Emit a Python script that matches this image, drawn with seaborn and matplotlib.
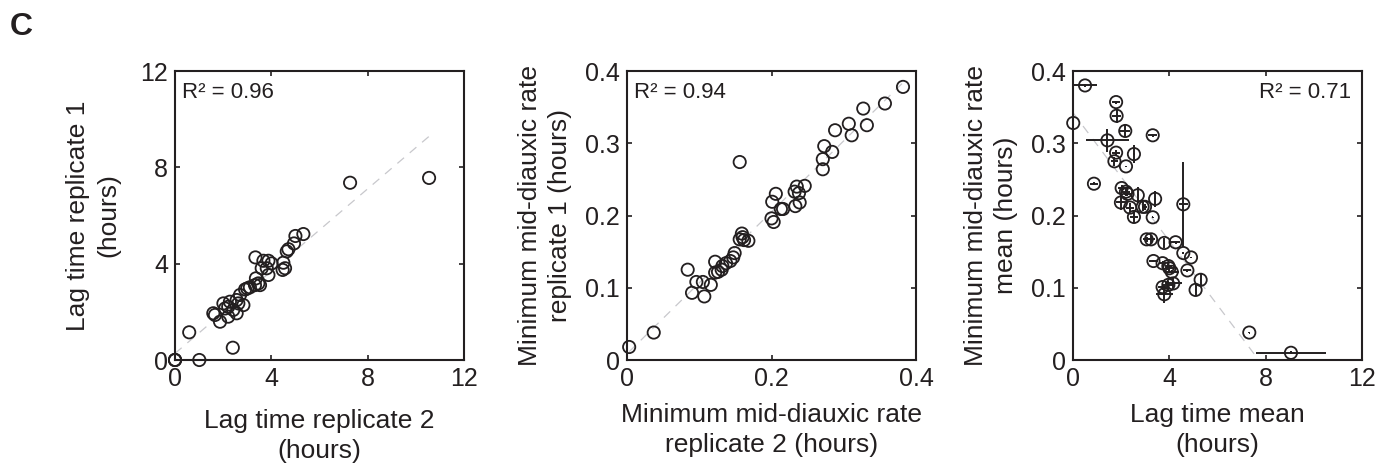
import numpy as np
import pandas as pd
import matplotlib
matplotlib.use("Agg")
import matplotlib.pyplot as plt
import seaborn as sns

# ---------------- data ----------------
lag_rep2 = [0, 0, 0, 1.01, 0.59, 2.40, 7.27, 10.55, 5.33, 5.00,
            4.94, 4.71, 4.64, 4.50, 4.47, 4.57, 3.34, 3.67, 3.88, 4.01,
            3.60, 3.81, 3.88, 3.36, 3.46, 3.53, 3.32, 3.11, 2.91, 3.00,
            2.70, 2.84, 2.63, 2.56, 2.28, 2.01, 2.21, 2.08, 1.59, 1.66,
            1.87, 2.21, 2.42, 2.56]
lag_rep1 = [0, 0, 0, 0, 1.15, 0.51, 7.36, 7.56, 5.23, 5.15,
            4.84, 4.60, 4.51, 4.04, 3.74, 3.81, 4.26, 4.12, 4.12, 4.01,
            3.81, 3.81, 3.53, 3.39, 3.18, 3.11, 3.11, 3.02, 2.93, 2.97,
            2.70, 2.28, 2.35, 1.94, 2.42, 2.35, 2.21, 2.14, 1.94, 1.87,
            1.59, 1.80, 2.08, 2.49]

rate_rep2 = [0.003, 0.037, 0.084, 0.090, 0.096, 0.105, 0.107, 0.116, 0.122, 0.122,
             0.126, 0.131, 0.132, 0.137, 0.143, 0.147, 0.149, 0.156, 0.159, 0.156,
             0.162, 0.168, 0.160, 0.200, 0.203, 0.201, 0.206, 0.213, 0.216, 0.232,
             0.235, 0.238, 0.246, 0.233, 0.239, 0.271, 0.273, 0.271, 0.284, 0.288,
             0.307, 0.311, 0.327, 0.332, 0.357, 0.382]
rate_rep1 = [0.018, 0.038, 0.125, 0.093, 0.108, 0.108, 0.088, 0.104, 0.136, 0.121,
             0.122, 0.125, 0.130, 0.134, 0.137, 0.142, 0.148, 0.274, 0.175, 0.167,
             0.166, 0.165, 0.170, 0.196, 0.191, 0.219, 0.230, 0.209, 0.209, 0.233,
             0.240, 0.231, 0.241, 0.213, 0.218, 0.278, 0.296, 0.264, 0.288, 0.318,
             0.327, 0.311, 0.348, 0.325, 0.355, 0.378]

lag_mean = [0.50, 0.01, 0.87, 1.79, 1.81, 2.17, 1.43, 3.31, 1.79, 1.72,
            2.53, 2.20, 2.02, 2.20, 2.26, 2.69, 3.41, 1.99, 2.37, 2.53,
            2.89, 2.99, 3.31, 4.58, 3.06, 3.24, 3.79, 4.26, 4.58, 4.90,
            3.34, 3.72, 3.96, 4.00, 4.10, 4.75, 5.30, 5.09, 3.72, 3.96,
            4.16, 3.79, 7.32, 9.05]
rate_mean = [0.380, 0.328, 0.244, 0.357, 0.338, 0.317, 0.304, 0.311, 0.287, 0.275,
             0.285, 0.268, 0.238, 0.233, 0.230, 0.228, 0.223, 0.218, 0.211, 0.198,
             0.212, 0.212, 0.1975, 0.2155, 0.167, 0.167, 0.162, 0.163, 0.148, 0.142,
             0.137, 0.134, 0.130, 0.127, 0.122, 0.124, 0.111, 0.097, 0.101, 0.104,
             0.106, 0.091, 0.038, 0.010]
lag_err = [0.48, 0.02, 0.18, 0.17, 0.18, 0.20, 0.90, 0.18, 0.15, 0.16,
           0.03, 0.02, 0.15, 0.18, 0.15, 0.03, 0.03, 0.22, 0.18, 0.16,
           0.03, 0.10, 0.02, 0.18, 0.15, 0.18, 0.03, 0.20, 0.02, 0.02,
           0.18, 0.15, 0.15, 0.18, 0.30, 0.17, 0.03, 0.03, 0.18, 0.18,
           0.35, 0.35, 0.02, 1.47]
rate_err = [0.002, 0.001, 0.002, 0.002, 0.010, 0.009, 0.016, 0.002, 0.003, 0.006,
            0.013, 0.001, 0.004, 0.006, 0.003, 0.011, 0.011, 0.010, 0.006, 0.008,
            0.006, 0.004, 0.001, 0.059, 0.003, 0.006, 0.007, 0.002, 0.001, 0.001,
            0.002, 0.003, 0.005, 0.004, 0.003, 0.002, 0.009, 0.009, 0.004, 0.006,
            0.008, 0.012, 0.001, 0.002]

r2_texts = ["R\u00b2 = 0.96", "R\u00b2 = 0.94", "R\u00b2 = 0.71"]
lag_ticks = [0, 4, 8, 12]
lag_ticklabels = ["0", "4", "8", "12"]
rate_ticks = [0, 0.1, 0.2, 0.3, 0.4]
rate_ticklabels = ["0", "0.1", "0.2", "0.3", "0.4"]
x_labels = ["Lag time replicate 2\n(hours)",
            "Minimum mid-diauxic rate\nreplicate 2 (hours)",
            "Lag time mean\n(hours)"]
y_labels = ["Lag time replicate 1\n(hours)",
            "Minimum mid-diauxic rate\nreplicate 1 (hours)",
            "Minimum mid-diauxic rate\nmean (hours)"]
panel_letter = "C"

# ---------------- style ----------------
sns.set_style("ticks")
plt.rcParams["font.family"] = ["Liberation Sans", "DejaVu Sans"]
plt.rcParams.update({
    "axes.linewidth": 1.5,
    "xtick.direction": "in", "ytick.direction": "in",
    "xtick.top": True, "ytick.right": True,
    "xtick.major.size": 3.5, "ytick.major.size": 3.5,
    "xtick.major.width": 1.2, "ytick.major.width": 1.2,
    "xtick.major.pad": 5, "ytick.major.pad": 5,
    "xtick.labelsize": 18, "ytick.labelsize": 18,
    "axes.labelsize": 19,
    "axes.edgecolor": "#231f20",
    "xtick.color": "#231f20", "ytick.color": "#231f20",
    "text.color": "#231f20", "axes.labelcolor": "#231f20",
})

fig = plt.figure(figsize=(13.89, 4.66), dpi=100)
lefts = [175 / 1389, 627 / 1389, 1073 / 1389]
w = 289 / 1389
b = (466 - 360) / 466
h = 289 / 466
axes = [fig.add_axes([l, b, w, h]) for l in lefts]

fit_kws = dict(color="#c8c8cc", lw=0.9, ls=(0, (7, 6)))
circle_kws = dict(s=78, marker="o", linewidth=1.3, zorder=3, clip_on=False)

def open_circles(ax):
    pts = ax.collections[-1]
    pts.set_facecolor("none")
    pts.set_edgecolor("#231f20")

# Panel 1
d1 = pd.DataFrame({"x": lag_rep2, "y": lag_rep1})
ax = axes[0]
sns.regplot(data=d1, x="x", y="y", ax=ax, scatter=False, ci=None, line_kws=fit_kws)
sns.scatterplot(data=d1, x="x", y="y", ax=ax, **circle_kws)
open_circles(ax)
ax.set_xlim(0, 12); ax.set_ylim(0, 12)
ax.set_xticks(lag_ticks, lag_ticklabels); ax.set_yticks(lag_ticks, lag_ticklabels)

# Panel 2
d2 = pd.DataFrame({"x": rate_rep2, "y": rate_rep1})
ax = axes[1]
sns.regplot(data=d2, x="x", y="y", ax=ax, scatter=False, ci=None, line_kws=fit_kws)
sns.scatterplot(data=d2, x="x", y="y", ax=ax, **circle_kws)
open_circles(ax)
ax.set_xlim(0, 0.4); ax.set_ylim(0, 0.4)
ax.set_xticks(rate_ticks[::2], rate_ticklabels[::2]); ax.set_yticks(rate_ticks, rate_ticklabels)

# Panel 3
d3 = pd.DataFrame({"x": lag_mean, "y": rate_mean, "xe": lag_err, "ye": rate_err})
ax = axes[2]
sns.regplot(data=d3, x="x", y="y", ax=ax, scatter=False, ci=None, line_kws=fit_kws)
sns.scatterplot(data=d3, x="x", y="y", ax=ax, **circle_kws)
open_circles(ax)
ax.errorbar(d3["x"], d3["y"], xerr=d3["xe"], yerr=d3["ye"], fmt="none",
            ecolor="#231f20", elinewidth=1.4, capsize=0, zorder=4)
ax.set_xlim(0, 12); ax.set_ylim(0, 0.4)
ax.set_xticks(lag_ticks, lag_ticklabels); ax.set_yticks(rate_ticks, rate_ticklabels)

for i, ax in enumerate(axes):
    ax.set_xlabel(x_labels[i], linespacing=1.32)
    ax.set_ylabel(y_labels[i], linespacing=1.32)
    ax.yaxis.set_label_coords(-0.19, 0.5)
    ax.xaxis.set_label_coords(0.5, -0.15 if i else -0.17)
    for s in ax.spines.values():
        s.set_visible(True)

axes[0].text(0.023, 0.963, r2_texts[0], transform=axes[0].transAxes, fontsize=16, va="top", ha="left")
axes[1].text(0.023, 0.963, r2_texts[1], transform=axes[1].transAxes, fontsize=16, va="top", ha="left")
axes[2].text(0.962, 0.963, r2_texts[2], transform=axes[2].transAxes, fontsize=16, va="top", ha="right")

fig.text(10 / 1389, 1 - 27 / 466, panel_letter, fontsize=23, fontweight="bold", va="center", ha="left")

fig.savefig("out.png", dpi=100)
